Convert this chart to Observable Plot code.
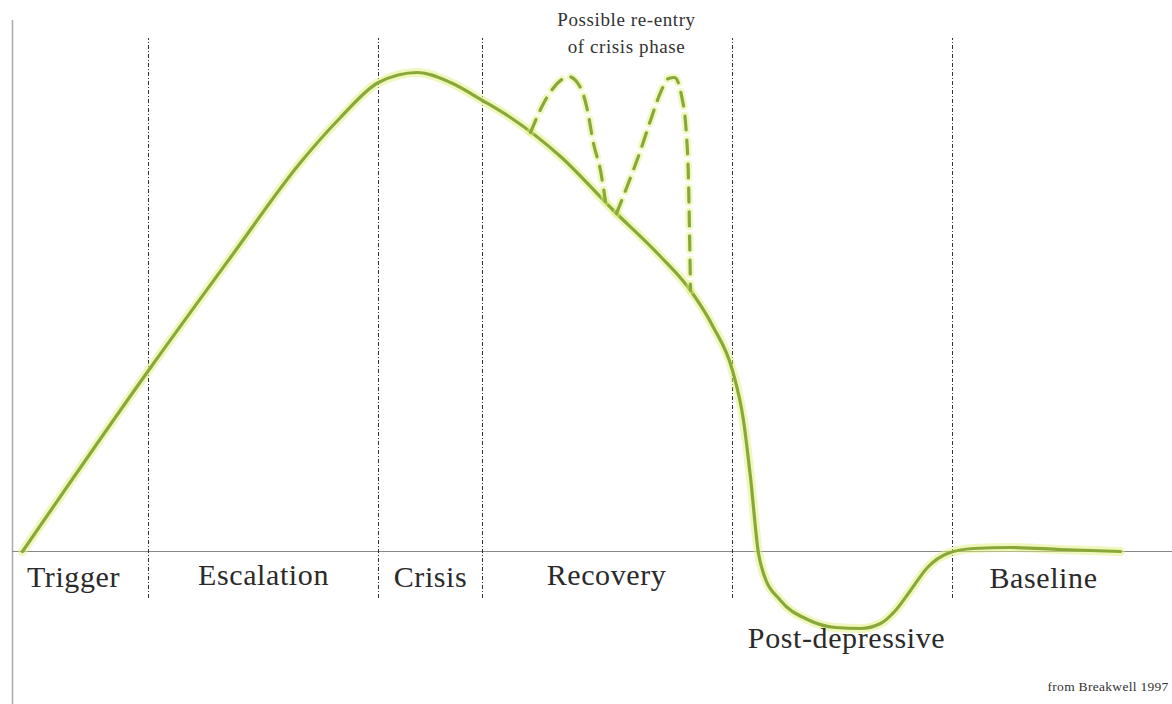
<!DOCTYPE html>
<html><head><meta charset="utf-8">
<script src="https://cdn.jsdelivr.net/npm/d3@7"></script>
<script src="https://cdn.jsdelivr.net/npm/@observablehq/plot@0.6"></script>
<style>
body{margin:0;background:#fff}
.lbl text{letter-spacing:0.6px}
.note text{letter-spacing:0.6px}
.credit text{letter-spacing:0.3px}
</style>
</head><body><div id="chart"></div>
<script>
// Phase boundaries (time units) and labels
const boundaries = [148, 378, 482, 732, 952];
const phaseNames = ["Trigger", "Escalation", "Crisis", "Recovery", "Post-depressive", "Baseline"];
const phaseLabelX = [73, 263, 430, 606, 846, 1043];
const phaseLabelY = [-26, -24, -26, -24, -87, -27];

// Main curve: time vs intensity (baseline = 0)
const curveT = [22, 148, 230, 300, 340, 378, 417, 450, 482, 510, 560, 613, 660, 690, 713, 732, 743, 750, 758, 763, 780, 807, 835, 860, 880, 895, 910, 927, 947, 973, 1010, 1060, 1120];
const curveV = [0, 181, 294, 389, 434, 469, 479, 469, 451, 434, 395, 341, 295, 261, 224, 181, 131, 74, -2, -22, -49, -68, -76, -77, -72, -59, -39, -16, -2, 3, 4, 2, 0];

// Possible re-entry of crisis (dashed), two humps
const hump1T = [530, 543, 560, 568, 580, 587, 593, 600, 605];
const hump1V = [419, 448, 471, 475, 464, 441, 408, 381, 350];
const hump2T = [616, 627, 640, 650, 660, 668, 674, 681, 686, 688, 689, 690];
const hump2V = [338, 366, 401, 431, 459, 473, 474, 456, 416, 371, 321, 261];

const main = curveT.map((t, i) => ({t, v: curveV[i]}));
const reentry = [
  ...hump1T.map((t, i) => ({t, v: hump1V[i], h: 1})),
  ...hump2T.map((t, i) => ({t, v: hump2V[i], h: 2}))
];
const labels = phaseNames.map((name, i) => ({name, t: phaseLabelX[i], v: phaseLabelY[i]}));
const note = [{t: 626, v: 532, text: "Possible re-entry"}, {t: 626, v: 505, text: "of crisis phase"}];
const credit = [{t: 1047, v: -135, text: "from Breakwell 1997"}];

const green = "#88a93a";
const glow = "#dff07a";
const serif = "'Liberation Serif', 'DejaVu Serif', serif";

const chart = Plot.plot({
  width: 1172, height: 704,
  marginTop: 0, marginRight: 0, marginBottom: 0, marginLeft: 0,
  x: {domain: [0, 1172], axis: null},
  y: {domain: [-153, 551], axis: null},
  style: {background: "#fff", fontFamily: serif},
  marks: [
    Plot.ruleX([12], {y1: -153, y2: 531, stroke: "#aaa", strokeWidth: 1.5}),
    Plot.ruleY([0], {x1: 12, x2: 1172, stroke: "#888", strokeWidth: 1}),
    Plot.ruleX(boundaries, {y1: -47, y2: 513, stroke: "#333", strokeWidth: 1, strokeDasharray: "4,2,1,2"}),
    Plot.line(main, {x: "t", y: "v", curve: "monotone-x", stroke: glow, strokeWidth: 9, strokeOpacity: 0.5}),
    Plot.line(main, {x: "t", y: "v", curve: "monotone-x", stroke: green, strokeWidth: 3.2}),
    Plot.line(reentry, {x: "t", y: "v", z: "h", curve: "monotone-x", stroke: glow, strokeWidth: 8, strokeOpacity: 0.45, strokeDasharray: "14,10"}),
    Plot.line(reentry, {x: "t", y: "v", z: "h", curve: "monotone-x", stroke: green, strokeWidth: 3.2, strokeDasharray: "14,10"}),
    Plot.text(labels, {x: "t", y: "v", text: "name", fontSize: 30, fill: "#2a2a2a", className: "lbl"}),
    Plot.text(note, {x: "t", y: "v", text: "text", fontSize: 19, fill: "#333", className: "note"}),
    Plot.text(credit, {x: "t", y: "v", text: "text", textAnchor: "start", fontSize: 13.5, fill: "#333", className: "credit"})
  ]
});
document.getElementById("chart").append(chart);
</script>
</body></html>
